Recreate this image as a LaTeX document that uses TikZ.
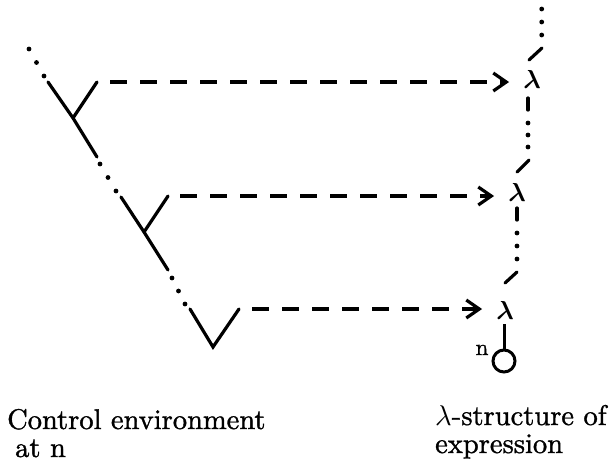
\documentclass[tikz,border=0pt]{standalone}
\usepackage{graphicx}
\usepackage{amsmath}
\usepackage{fontspec}
\usetikzlibrary{arrows.meta,calc}

% slightly heavier roman for the captions
\newfontfamily\capfont{lmroman10-regular.otf}[FakeBold=1.2]

\tikzset{
  stroke/.style={line width=3.2pt, line cap=round},
  link/.style={line width=3.2pt, dash pattern=on 17pt off 13pt,
    -{Straight Barb[length=13pt,width=18pt,line width=3.2pt]}},
  lam/.style={inner ysep=0pt, inner xsep=14pt},
  caption/.style={anchor=base west, inner sep=0pt},
  ring/.style={circle, draw, line width=3pt, minimum size=22pt, inner sep=0pt},
}
% three dots evenly spaced between two points
\newcommand\dotrun[2]{\foreach \t in {0,0.5,1} \fill ($(#1)!\t!(#2)$) circle (2.4pt);}
\newcommand\captxt[1]{\scalebox{2.85}{\capfont #1}}
\newcommand\lam{\ensuremath{\boldsymbol{\lambda}}}

\begin{document}
\begin{tikzpicture}[x=1pt,y=-1pt]
\useasboundingbox (0,0) rectangle (612,464);

% ---- control environment: chain of frames ----
\coordinate (d1a) at (29,49);   \coordinate (d1b) at (44,76);
\coordinate (s1) at (48,82);    \coordinate (b1) at (73,118);
\coordinate (a1) at (97,82);    \coordinate (e1) at (97,157);
\coordinate (d2a) at (100,164); \coordinate (d2b) at (116,191);
\coordinate (s2) at (121,197);  \coordinate (b2) at (144,232);
\coordinate (a2) at (168,196);  \coordinate (e2) at (168,270);
\coordinate (d3a) at (172,278); \coordinate (d3b) at (185,304);
\coordinate (s3) at (190,309);  \coordinate (b3) at (213,347);
\coordinate (a3) at (239,309);

\dotrun{d1a}{d1b}
\draw[stroke] (s1) -- (b1) -- (e1) (b1) -- (a1);
\dotrun{d2a}{d2b}
\draw[stroke] (s2) -- (b2) -- (e2) (b2) -- (a2);
\dotrun{d3a}{d3b}
\draw[stroke] (s3) -- (b3) -- (a3);

% ---- lambda-structure of the expression ----
\node[lam] (l1) at (532,79) {\scalebox{2.6}{\lam}};
\node[lam] (l2) at (517,192) {\scalebox{2.6}{\lam}};
\node[lam] (l3) at (505,310) {\scalebox{2.6}{\lam}};
\node[ring] (c) at (504,361) {};
\node[anchor=base, inner sep=0pt] (n) at (482,355) {\scalebox{2.3}{\capfont n}};

\coordinate (t0a) at (541.7,9);  \coordinate (t0b) at (541.7,35);
\coordinate (k1a) at (529,60);   \coordinate (k1b) at (542,48);
\coordinate (u1a) at (528,98);   \coordinate (u1b) at (528,110);
\coordinate (t1a) at (528,123);  \coordinate (t1b) at (528,147);
\coordinate (k2a) at (517,172);  \coordinate (k2b) at (529,160);
\coordinate (u2a) at (517,208);  \coordinate (u2b) at (517,220);
\coordinate (t2a) at (517,233);  \coordinate (t2b) at (517,259);
\coordinate (k3a) at (505,283);  \coordinate (k3b) at (517,272);

\dotrun{t0a}{t0b}
\draw[stroke] (k1a) -- (k1b);
\draw[stroke] (u1a) -- (u1b);
\dotrun{t1a}{t1b}
\draw[stroke] (k2a) -- (k2b);
\draw[stroke] (u2a) -- (u2b);
\dotrun{t2a}{t2b}
\draw[stroke] (k3a) -- (k3b);
\draw[line width=3pt] ([yshift=-5pt]l3.south -| c.north) -- (c.north);

% ---- frame-to-lambda links ----
\draw[link, shorten <=13pt] (a1) -- (a1 -| l1.west);
\draw[link, shorten <=12pt] (a2) -- (a2 -| l2.west);
\draw[link, shorten <=13pt] (a3) -- (a3 -| l3.west);

% ---- captions ----
\node[caption] (cap1) at (7,429) {\captxt{Control environment}};
\node[caption] (cap2) at (15,457) {\captxt{at n}};
\node[caption] (cap3) at (435,425) {\captxt{$\lambda$-structure of}};
\node[caption] (cap4) at (435,453) {\captxt{expression}};
\end{tikzpicture}
\end{document}
